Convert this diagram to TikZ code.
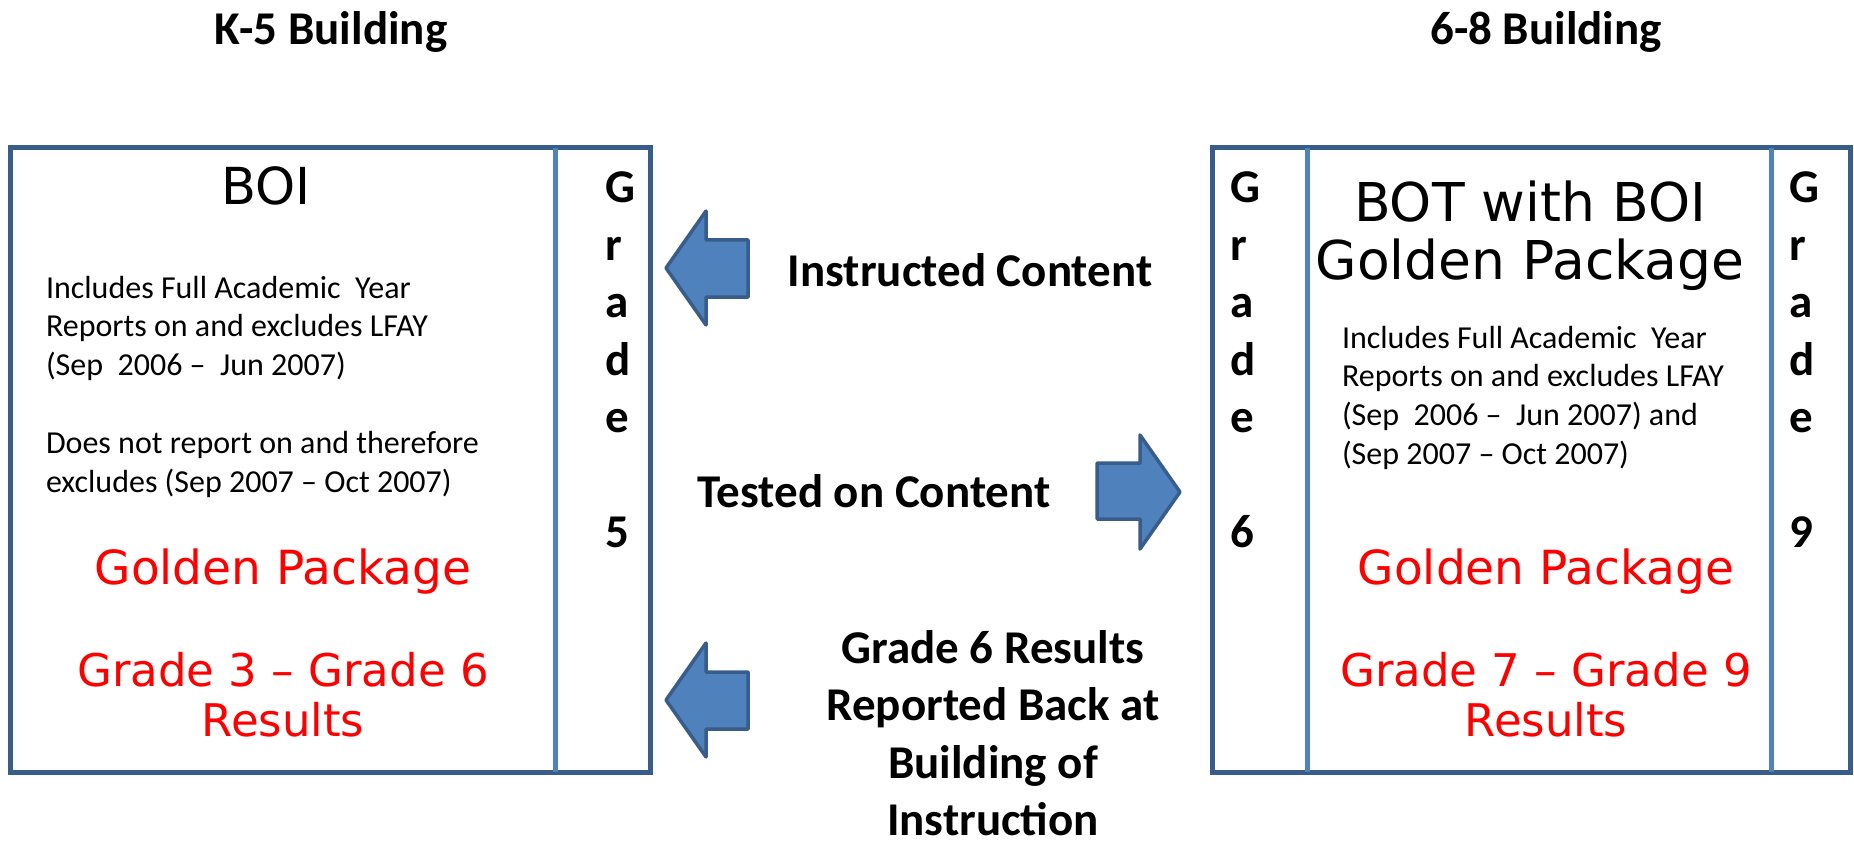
\documentclass[tikz,border=0pt]{standalone}
\usepackage{fontspec}
\setmainfont{Carlito}
\newfontfamily\verd{DejaVu Sans}
\definecolor{boxdark}{HTML}{385D8A}
\definecolor{boxlight}{HTML}{4F81BD}
\definecolor{arrowfill}{HTML}{4F81BD}
\definecolor{redtxt}{HTML}{FF0000}
\tikzset{
  outerbox/.style={draw=boxdark, line width=5pt},
  divider/.style={draw=boxlight, line width=5pt},
  blockarrow/.style={fill=arrowfill, draw=boxdark, line width=3.5pt, line join=round},
  txt/.style={inner sep=0pt, outer sep=0pt},
  head/.style={txt, font=\fontsize{47}{57.3}\selectfont\bfseries},
  midtxt/.style={txt, font=\fontsize{47}{57.3}\selectfont\bfseries, align=center},
  gradecol/.style={txt, font=\fontsize{47}{57.4}\selectfont\bfseries, align=left, anchor=north west},
  bodytxt/.style={txt, font=\fontsize{32}{38.9}\selectfont, align=left, anchor=north west},
  titletxt/.style={txt, font=\verd\fontsize{#1}{56}\selectfont, align=center},
  redbig/.style={txt, text=redtxt, font=\verd\fontsize{#1}{48}\selectfont, align=center}
}
\begin{document}
\begin{tikzpicture}[x=1pt,y=-1pt]
\useasboundingbox (0,0) rectangle (1854,842);

% headers
\node[head, anchor=base] (hk5) at (331,45) {K-5 Building};
\node[head, anchor=base] (h68) at (1546,45) {6-8 Building};

% left box
\draw[outerbox] (10.7,148) rectangle (650,772);
\draw[divider] (555,148) -- (555,772);
% right box
\draw[outerbox] (1212,148) rectangle (1850,772);
\draw[divider] (1307,148) -- (1307,772);
\draw[divider] (1771,148) -- (1771,772);

% left box content
\node[titletxt=51, anchor=base] (boi) at (266,205) {BOI};
\node[bodytxt] (lbody) at (46,270.8) {\strut Includes Full Academic\ \ Year\\Reports on and excludes LFAY\\(Sep\ \ 2006 –\ \ Jun 2007)\\[38.9pt]Does not report on and therefore\\excludes (Sep 2007 – Oct 2007)};
\node[redbig=47, anchor=base] (lgp) at (283,584) {Golden Package};
\node[redbig=45, anchor=north] (lres) at (283,652.4) {\strut Grade 3 – Grade 6\\Results};
\node[gradecol] (g5) at (605,162.8) {\strut G\\r\\a\\d\\e\\[57.4pt]5};

% right box content
\node[gradecol] (g6) at (1230,162.8) {\strut G\\r\\a\\d\\e\\[57.4pt]6};
\node[gradecol] (g9) at (1789,162.8) {\strut G\\r\\a\\d\\e\\[57.4pt]9};
\node[titletxt=53.5, anchor=north] (bot) at (1530,180.8) {\strut BOT with BOI\\Golden Package};
\node[bodytxt] (rbody) at (1342,320.8) {\strut Includes Full Academic\ \ Year\\Reports on and excludes LFAY\\(Sep\ \ 2006 –\ \ Jun 2007) and\\(Sep 2007 – Oct 2007)};
\node[redbig=47, anchor=base] (rgp) at (1546,584) {Golden Package};
\node[redbig=45, anchor=north] (rres) at (1546,652.4) {\strut Grade 7 – Grade 9\\Results};

% middle labels
\node[midtxt, anchor=base] (instr) at (970,286) {Instructed Content};
\node[midtxt, anchor=base] (tested) at (874,507) {Tested on Content};
\node[midtxt, anchor=north] (report) at (993,623.4) {\strut Grade 6 Results\\Reported Back at\\Building of\\Instruction};

% block arrows
\draw[blockarrow] (666,268) -- (706,211) -- (706,240) -- (748,240) -- (748,297) -- (706,297) -- (706,325) -- cycle;
\draw[blockarrow] (1180,492) -- (1140,435) -- (1140,463) -- (1097,463) -- (1097,519) -- (1140,519) -- (1140,549) -- cycle;
\draw[blockarrow] (666,700) -- (706,643) -- (706,672) -- (748,672) -- (748,729) -- (706,729) -- (706,757) -- cycle;
\end{tikzpicture}
\end{document}
